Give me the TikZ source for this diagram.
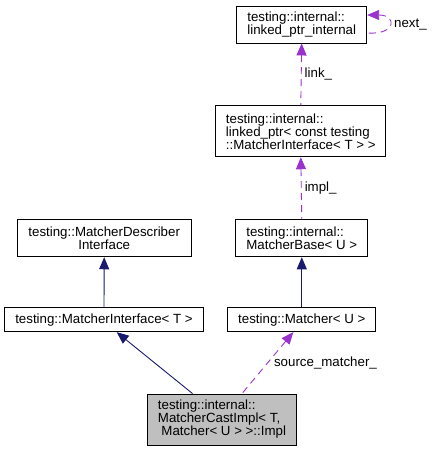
\documentclass[tikz,border=0pt]{standalone}
\usepackage{fontspec}
\setmainfont{Liberation Sans}
\usetikzlibrary{arrows.meta, positioning}
\definecolor{inheritblue}{HTML}{191970}
\definecolor{memberpurple}{HTML}{9A32CD}
\definecolor{currentgray}{HTML}{BFBFBF}
\tikzset{
    diagram/.style={font=\fontsize{13.3}{13}\selectfont, x=1pt, y=-1pt},
    class box/.style={draw, line width=0.9pt, inner sep=0pt, align=left},
    inherit arrow/.style={{Triangle[length=12pt, width=10pt]}-, line width=0.9pt,
        draw=inheritblue},
    member arrow/.style={{Triangle[length=12pt, width=10pt]}-, line width=0.9pt,
        draw=memberpurple, dash pattern=on 7pt off 5pt},
    member label/.style={inner sep=3pt, text=black},
}
\begin{document}
\begin{tikzpicture}[
        diagram,
        current box/.style={class box, fill=currentgray}
    ]
        \useasboundingbox (0,0) rectangle (433,451);

        \node[class box, minimum width=130pt, minimum height=37pt] (lpint) at (301.7,24.5)
            {testing::internal::\\linked\_ptr\_internal};
        \node[class box, minimum width=170pt, minimum height=51pt] (lptr) at (300.8,131.3)
            {testing::internal::\\linked\_ptr< const testing\\::MatcherInterface< T > >};
        \node[class box, align=center, minimum width=174pt, minimum height=37pt] (describer) at (104.2,238.3)
            {testing::MatcherDescriber\\Interface};
        \node[class box, minimum width=132pt, minimum height=37pt] (base) at (301.8,238.3)
            {testing::internal::\\MatcherBase< U >};
        \node[class box, minimum width=199pt, minimum height=24pt] (iface) at (104,319.7)
            {testing::MatcherInterface< T >};
        \node[class box, minimum width=148pt, minimum height=24pt] (matcher) at (301.8,319.7)
            {testing::Matcher< U >};
        \node[current box, minimum width=149pt, minimum height=51pt] (impl) at (222,419.5)
            {testing::internal::\\MatcherCastImpl< T,\\\hspace*{3.5pt}Matcher< U > >::Impl};

        % inheritance
        \draw[inherit arrow] (describer.south) -- (iface.north);
        \draw[inherit arrow] (base.south) -- (matcher.north);
        \draw[inherit arrow] ([xshift=12.7pt]iface.south) -- ([xshift=-29.5pt]impl.north);

        % members
        \draw[member arrow] (lpint.south) -- (lptr.north)
            node[member label, right, midway] (linklbl) {link\_};
        \draw[member arrow] (lptr.south) -- (base.north)
            node[member label, right, midway] (impllbl) {impl\_};
        \draw[member arrow] ([xshift=-8.5pt]matcher.south) -- ([xshift=20pt]impl.north)
            node[member label, right=3pt, midway] (srclbl) {source\_matcher\_};
        \draw[member arrow] ([yshift=9.5pt]lpint.east) .. controls (397,15) and (397,35)
            .. ([yshift=-8.5pt]lpint.east);
        \node[member label, anchor=west] (nextlbl) at (391,25) {next\_};
    \end{tikzpicture}
\end{document}
